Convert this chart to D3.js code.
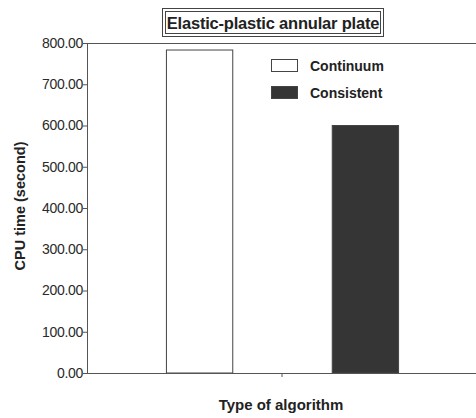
<!DOCTYPE html>
<html>
<head>
<meta charset="utf-8">
<script src="https://cdn.jsdelivr.net/npm/d3@7"></script>
<style>
  body { margin: 0; background: #fff; }
  text { font-family: "Liberation Sans", Arial, sans-serif; }
</style>
</head>
<body>
<div id="chart"></div>
<script>
// chart data
var seriesNames = ["Continuum", "Consistent"];
var cpuTimes = [783, 600];
var seriesColors = ["#ffffff", "#353535"];
var yTicks = [0, 100, 200, 300, 400, 500, 600, 700, 800];

var width = 476, height = 418;
var margin = {top: 43, right: 0, bottom: 45, left: 87};
var w = width - margin.left - margin.right + 1;
var h = height - margin.top - margin.bottom;

var svg = d3.select("#chart").append("svg")
    .attr("width", width)
    .attr("height", height);

var x = d3.scaleBand()
    .domain(seriesNames)
    .range([0, w])
    .paddingInner(0.6)
    .paddingOuter(0.476);

var y = d3.scaleLinear()
    .domain([0, 800])
    .range([h, 0]);

var g = svg.append("g")
    .attr("transform", "translate(" + margin.left + "," + margin.top + ")");

// bars
g.selectAll("rect.bar")
    .data(seriesNames)
    .enter().append("rect")
    .attr("class", "bar")
    .attr("x", function(d) { return x(d) + 0.5; })
    .attr("y", function(d, i) { return y(cpuTimes[i]); })
    .attr("width", x.bandwidth())
    .attr("height", function(d, i) { return h - y(cpuTimes[i]); })
    .attr("fill", function(d, i) { return seriesColors[i]; })
    .attr("stroke", "#444")
    .attr("stroke-width", 1);

// top frame line
g.append("line")
    .attr("x1", 0).attr("x2", w)
    .attr("y1", 0.5).attr("y2", 0.5)
    .attr("stroke", "#555");

// y axis
var yAxis = g.append("g")
    .call(d3.axisLeft(y).tickValues(yTicks).tickFormat(d3.format(".2f")).tickSize(4));
yAxis.select(".domain").attr("stroke", "#555").attr("d", "M0.5," + h + "V0");
yAxis.selectAll(".tick line").attr("stroke", "#555");
yAxis.selectAll("text")
    .attr("font-size", 14)
    .attr("letter-spacing", -0.3)
    .attr("fill", "#2a2a2a")
    .attr("x", -4);

// x axis
var xAxis = g.append("g")
    .attr("transform", "translate(0," + h + ")");
xAxis.append("line")
    .attr("x1", 0).attr("x2", w)
    .attr("y1", 0.5).attr("y2", 0.5)
    .attr("stroke", "#555");
xAxis.append("line")
    .attr("x1", w / 2).attr("x2", w / 2)
    .attr("y1", 0).attr("y2", 4)
    .attr("stroke", "#555");

// axis titles
svg.append("text")
    .attr("transform", "translate(25,206) rotate(-90)")
    .attr("text-anchor", "middle")
    .attr("font-size", 14.5)
    .attr("font-weight", "bold")
    .attr("fill", "#222")
    .text("CPU time (second)");

svg.append("text")
    .attr("x", 281)
    .attr("y", 410)
    .attr("text-anchor", "middle")
    .attr("font-size", 15)
    .attr("font-weight", "bold")
    .attr("fill", "#222")
    .text("Type of algorithm");

// title with double border
var title = svg.append("g");
title.append("rect")
    .attr("x", 162.5).attr("y", 8.5)
    .attr("width", 221).attr("height", 28)
    .attr("fill", "#fff").attr("stroke", "#444");
title.append("rect")
    .attr("x", 165.5).attr("y", 11.5)
    .attr("width", 215).attr("height", 22)
    .attr("fill", "none").attr("stroke", "#444");
title.append("text")
    .attr("x", 273)
    .attr("y", 28.5)
    .attr("text-anchor", "middle")
    .attr("font-size", 16.5)
    .attr("font-weight", "bold")
    .attr("letter-spacing", -0.2)
    .attr("fill", "#222")
    .text("Elastic-plastic annular plate");

// legend
var legend = svg.append("g")
    .selectAll("g")
    .data(seriesNames)
    .enter().append("g")
    .attr("transform", function(d, i) { return "translate(271," + (59 + i * 27) + ")"; });

legend.append("rect")
    .attr("x", 0.5).attr("y", 0.5)
    .attr("width", 26).attr("height", 12)
    .attr("fill", function(d, i) { return seriesColors[i]; })
    .attr("stroke", "#444");

legend.append("text")
    .attr("x", 39)
    .attr("y", 11.5)
    .attr("font-size", 14)
    .attr("font-weight", "bold")
    .attr("fill", "#222")
    .text(function(d) { return d; });
</script>
</body>
</html>
